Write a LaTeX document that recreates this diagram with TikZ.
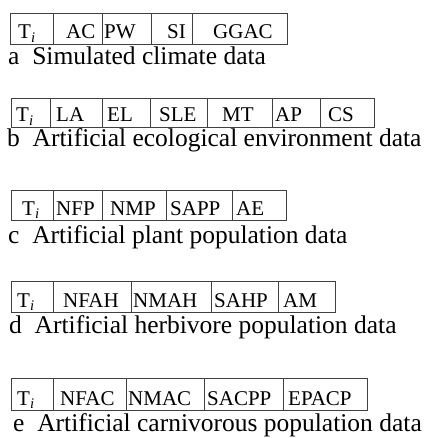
\documentclass[tikz,border=0pt]{standalone}
\usepackage{fontspec}
\setmainfont{Liberation Serif}
\usepackage{tikz}

\newcommand{\Ti}{T\textsubscript{\textit{i}}}

\tikzset{
    cell/.style={line width=0.8pt, draw=black!75},
    celltext/.style={anchor=base west, inner sep=0pt, font=\fontsize{21}{25}\selectfont},
    caption/.style={anchor=base west, inner sep=0pt, font=\fontsize{25.5}{30}\selectfont}
}

\begin{document}
\begin{tikzpicture}[x=1pt, y=-1pt]

    \useasboundingbox (0,0) rectangle (426,438);

    % a
    \draw [cell] (10,13) rectangle (53,44);
    \draw [cell] (53,13) rectangle (102,44);
    \draw [cell] (102,13) rectangle (151,44);
    \draw [cell] (151,13) rectangle (192,44);
    \draw [cell] (192,13) rectangle (287,44);

    \node [celltext] (aTi) at (18,39){\Ti};
    \node [celltext] (aAC) at (66,39){AC};
    \node [celltext] (aPW) at (104,39){PW};
    \node [celltext] (aSI) at (167,39){SI};
    \node [celltext] (aGGAC) at (213,39){GGAC};
    \node [caption] (capa) at (8,65){a\ \ Simulated climate data};

    % b
    \draw [cell] (11,98) rectangle (50,127);
    \draw [cell] (50,98) rectangle (102,127);
    \draw [cell] (102,98) rectangle (150,127);
    \draw [cell] (150,98) rectangle (207,127);
    \draw [cell] (207,98) rectangle (272,127);
    \draw [cell] (272,98) rectangle (320,127);
    \draw [cell] (320,98) rectangle (374,127);

    \node [celltext] (bTi) at (16,122){\Ti};
    \node [celltext] (bLA) at (56,122){LA};
    \node [celltext] (bEL) at (107,122){EL};
    \node [celltext] (bSLE) at (159,122){SLE};
    \node [celltext] (bMT) at (222,122){MT};
    \node [celltext] (bAP) at (275,122){AP};
    \node [celltext] (bCS) at (328,122){CS};
    \node [caption] (capb) at (7,147){b\ \ Artificial ecological environment data};

    % c
    \draw [cell] (11,190) rectangle (53,220);
    \draw [cell] (53,190) rectangle (102,220);
    \draw [cell] (102,190) rectangle (166,220);
    \draw [cell] (166,190) rectangle (232,220);
    \draw [cell] (232,190) rectangle (286,220);

    \node [celltext] (cTi) at (22,215){\Ti};
    \node [celltext] (cNFP) at (56,215){NFP};
    \node [celltext] (cNMP) at (110,215){NMP};
    \node [celltext] (cSAPP) at (170,215){SAPP};
    \node [celltext] (cAE) at (236,215){AE};
    \node [caption] (capc) at (8,243){c\ \ Artificial plant population data};

    % d
    \draw [cell] (11,281) rectangle (53,312);
    \draw [cell] (53,281) rectangle (131,312);
    \draw [cell] (131,281) rectangle (211,312);
    \draw [cell] (211,281) rectangle (278,312);
    \draw [cell] (278,281) rectangle (335,312);

    \node [celltext] (dTi) at (17,307){\Ti};
    \node [celltext] (dNFAH) at (63,307){NFAH};
    \node [celltext] (dNMAH) at (133,307){NMAH};
    \node [celltext] (dSAHP) at (214,307){SAHP};
    \node [celltext] (dAM) at (283,307){AM};
    \node [caption] (capd) at (9,333){d\ \ Artificial herbivore population data};

    % e
    \draw [cell] (11,378) rectangle (53,410);
    \draw [cell] (53,378) rectangle (126,410);
    \draw [cell] (126,378) rectangle (204,410);
    \draw [cell] (204,378) rectangle (283,410);
    \draw [cell] (283,378) rectangle (367,410);

    \node [celltext] (eTi) at (17,405){\Ti};
    \node [celltext] (eNFAC) at (60,405){NFAC};
    \node [celltext] (eNMAC) at (128,405){NMAC};
    \node [celltext] (eSACPP) at (207,405){SACPP};
    \node [celltext] (eEPACP) at (288,405){EPACP};
    \node [caption] (cape) at (13,431){e\ \ Artificial carnivorous population data};

\end{tikzpicture}
\end{document}
